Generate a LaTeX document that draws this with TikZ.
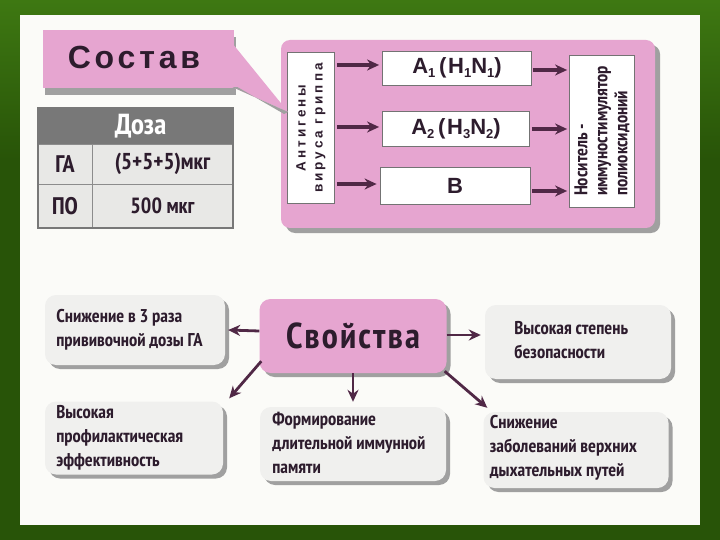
\documentclass[tikz,border=0pt]{standalone}
\usepackage{fontspec}
\setmainfont{PT Sans Narrow}
\newfontfamily\widefont{Liberation Sans}[BoldFont={Liberation Sans Bold}]
\usetikzlibrary{shadows,arrows.meta,calc}
\definecolor{bggreen}{RGB}{40,84,8}
\definecolor{bglight}{RGB}{62,120,18}
\definecolor{paper}{RGB}{251,251,248}
\definecolor{pinkc}{RGB}{230,165,208}
\definecolor{txt}{RGB}{45,28,45}
\definecolor{arrowc}{RGB}{80,40,70}
\definecolor{boxgray}{RGB}{240,240,238}
\definecolor{shadowgray}{RGB}{160,160,160}
\definecolor{headgray}{RGB}{120,120,120}
\definecolor{cellgray}{RGB}{232,232,230}
\tikzset{
  pinkpanel/.style={fill=pinkc, rounded corners=9pt, drop shadow={shadow xshift=5pt, shadow yshift=-5pt, fill=shadowgray, opacity=1}},
  whitebox/.style={fill=white, draw=black!55, line width=0.8pt, inner sep=0pt},
  propbox/.style={fill=boxgray, rounded corners=11pt, inner sep=0pt, drop shadow={shadow xshift=4pt, shadow yshift=-4pt, fill=shadowgray, opacity=1}},
  proptext/.style={text=txt, font=\bfseries\fontsize{18.5}{24}\selectfont, align=left},
  arr/.style={-{Stealth[length=12pt,width=11pt]}, line width=3.2pt, draw=arrowc},
  cell/.style={fill=cellgray, draw=black!45, line width=0.8pt, inner sep=0pt},
  abox/.style={whitebox, text=txt, font=\widefont\bfseries\fontsize{22}{22}\selectfont\addfontfeatures{LetterSpace=8}},
}
\newcommand{\sbs}[1]{\raisebox{-0.35ex}{\fontsize{13}{13}\selectfont #1}}
\begin{document}
\begin{tikzpicture}[x=1pt,y=-1pt]
\useasboundingbox (0,0) rectangle (720,540);
\fill[bggreen] (0,0) rectangle (720,540);
\shade[top color=bglight, bottom color=bggreen] (0,0) rectangle (720,160);
\fill[paper] (20,15) rectangle (700,525);

% ---------- Состав ----------
\node[fill=pinkc, minimum width=191pt, minimum height=58pt, inner sep=0pt,
      drop shadow={shadow xshift=2pt, shadow yshift=-7pt, fill=shadowgray, opacity=1}]
  (sostav) at (138,59) {};
\node[text=txt, font=\widefont\bfseries\fontsize{32}{32}\selectfont\addfontfeatures{LetterSpace=12}] (sostavtxt) at (134,57) {Состав};

% pink panel
\node[pinkpanel, minimum width=374pt, minimum height=188pt, inner sep=0pt] (panel) at (468,134) {};

\node[whitebox, minimum width=47pt, minimum height=151pt] (antigen) at (311,128) {};
\node[rotate=90, text=txt, font=\widefont\bfseries\fontsize{13.5}{17}\selectfont\addfontfeatures{LetterSpace=22}, align=center] at (antigen.center) {Антигены\\вируса гриппа};

% callout tail
\fill[pinkc] ($(sostav.north east)+(-1,14)$) -- ($(antigen.west)+(1,-16)$) -- ($(sostav.south east)+(-1,-1)$) -- cycle;
\fill[shadowgray] ($(sostav.south east)+(-1,-1)$) -- ($(sostav.south east)+(4,-1)$) -- ($(antigen.west)+(-3,-14)$) -- ($(antigen.west)+(1,-16)$) -- cycle;

\node[abox, minimum width=149pt, minimum height=34pt] (a1) at (457,68)
  {A\sbs{1}\,(H\sbs{1}N\sbs{1})};
\node[abox, minimum width=147pt, minimum height=35pt] (a2) at (456,129)
  {A\sbs{2}\,(H\sbs{3}N\sbs{2})};
\node[abox, minimum width=150pt, minimum height=37pt] (b) at (455,186)
  {B};

\node[whitebox, minimum width=65pt, minimum height=152pt] (carrier) at (602,131) {};
\node[rotate=90, text=txt, font=\bfseries\fontsize{18.5}{20}\selectfont, align=left] at (carrier.center) {Носитель -\\иммуностимулятор\\полиоксидоний};

\draw[arr] (antigen.east |- a1.center) ++(2,-3) -- ($(a1.west)+(-3,-3)$);
\draw[arr] (antigen.east |- a2.center) ++(2,-2) -- ($(a2.west)+(-3,-2)$);
\draw[arr] (antigen.east |- b.center) ++(2,-2) -- ($(b.west)+(-3,-2)$);
\draw[arr] ($(a1.east)+(1,2)$) -- ($(carrier.west |- a1.east)+(-2,2)$);
\draw[arr] ($(a2.east)+(2,0)$) -- ($(carrier.west |- a2.east)+(-2,0)$);
\draw[arr] ($(b.east)+(2,5)$) -- ($(carrier.west |- b.east)+(-2,5)$);

% ---------- Доза table ----------
\node[fill=headgray, minimum width=195pt, minimum height=36pt, inner sep=0pt, text=white,
      font=\bfseries\fontsize{29}{29}\selectfont] (dose) at (135.5,126) {\hspace*{10pt}Доза};
\node[cell, minimum width=54pt, minimum height=40pt, font=\bfseries\fontsize{24}{24}\selectfont, text=txt] (ga) at (65,164) {ГА};
\node[cell, minimum width=141pt, minimum height=40pt, font=\bfseries\fontsize{23}{23}\selectfont, text=txt] (gaval) at (162.5,164) {(5+5+5)мкг};
\node[cell, minimum width=54pt, minimum height=44pt, font=\bfseries\fontsize{24}{24}\selectfont, text=txt] (po) at (65,206) {ПО};
\node[cell, minimum width=141pt, minimum height=44pt, font=\bfseries\fontsize{22}{22}\selectfont, text=txt] (poval) at (162.5,206) {500 мкг};
\draw[headgray, line width=2pt] (dose.north west) rectangle (poval.south east);

% ---------- Свойства ----------
\node[fill=pinkc, rounded corners=11pt, minimum width=187pt, minimum height=74pt, inner sep=0pt,
      drop shadow={shadow xshift=4pt, shadow yshift=-4pt, fill=shadowgray, opacity=1},
      text=txt, font=\bfseries\fontsize{36}{36}\selectfont\addfontfeatures{LetterSpace=6}] (props) at (353,336) {Свойства};

\node[propbox, minimum width=180pt, minimum height=70pt] (p1) at (135,330) {};
\node[proptext, anchor=west] at ($(p1.west)+(8,0)$) {Снижение в 3 раза\\прививочной дозы ГА};

\node[propbox, minimum width=186pt, minimum height=74pt] (p2) at (578,342) {};
\node[proptext, anchor=west] at ($(p2.west)+(26,-2)$) {Высокая степень\\безопасности};

\node[propbox, minimum width=178pt, minimum height=73pt] (p3) at (134,438) {};
\node[proptext, anchor=west] at ($(p3.west)+(8,0)$) {Высокая\\профилактическая\\эффективность};

\node[propbox, minimum width=186pt, minimum height=74pt] (p4) at (353,444) {};
\node[proptext, anchor=west] at ($(p4.west)+(9,-1)$) {Формирование\\длительной иммунной\\памяти};

\node[propbox, minimum width=185pt, minimum height=76pt] (p5) at (576,450) {};
\node[proptext, anchor=west] at ($(p5.west)+(3,-2)$) {Снижение\\заболеваний верхних\\дыхательных путей};

\draw[arr, line width=2.8pt] ($(props.west)+(0,-5)$) -- ($(p1.east)+(3,0)$);
\draw[arr, line width=2.8pt] ($(props.east)+(0,-1)$) -- ($(p2.west)+(-4,-7)$);
\draw[arr, line width=2.8pt] ($(props.south west)+(2,-12)$) -- ($(p3.north east)+(6,-3)$);
\draw[arr, line width=2.8pt] (props.south) -- ($(p4.north)+(0,-5)$);
\draw[arr, line width=2.8pt] ($(props.south east)+(-2,-2)$) -- ($(p5.north west)+(4,-4)$);
\end{tikzpicture}
\end{document}
